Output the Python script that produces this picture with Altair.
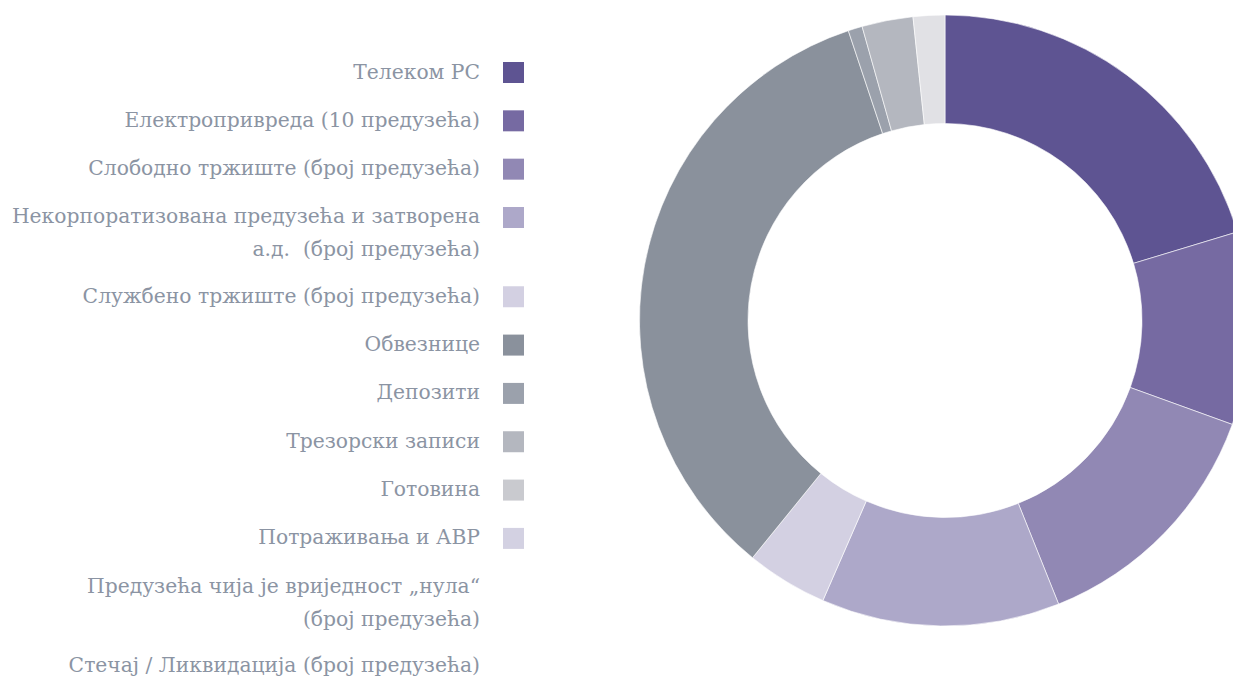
import altair as alt
import pandas as pd

categories = [
    "Телеком РС",
    "Електропривреда (10 предузећа)",
    "Слободно тржиште (број предузећа)",
    "Некорпоратизована предузећа и затворена\nа.д.\u00a0 (број предузећа)",
    "Службено тржиште (број предузећа)",
    "Обвезнице",
    "Депозити",
    "Трезорски записи",
    "Готовина",
    "Потраживања и АВР",
    "Предузећа чија је вриједност „нула“\n(број предузећа)",
    "Стечај / Ликвидација (број предузећа)",
]
values = [20.3, 10.2, 13.4, 12.6, 4.3, 34.0, 0.75, 2.7, 1.67, 0.0, 0.0, 0.0]
legend_colors = ["#5e5492", "#766aa2", "#9188b4", "#ada8c9", "#d3d0e2", "#8a919c",
                 "#9ba1ac", "#b4b7bf", "#c9cacf", "#d3d1e2", "#ffffff", "#ffffff"]
slice_colors = ["#5e5492", "#766aa2", "#9188b4", "#ada8c9", "#d3d0e2", "#8a919c",
                "#9ba1ac", "#b4b7bf", "#e1e1e5", "#d3d1e2", "#ffffff", "#ffffff"]

# legend row positions derived from the number of text lines in each label
LINE_RATIO = 0.64
extra = [c.count("\n") for c in categories]
pos = []
acc = 0.0
for i, e in enumerate(extra):
    pos.append(i + acc)
    acc += e * LINE_RATIO
max_pos = pos[-1]

df = pd.DataFrame({
    "category": categories,
    "value": values,
    "idx": list(range(len(categories))),
    "pos": pos,
    "swatch": legend_colors,
})

TEXT_COLOR = "#8b94a3"
FONT = "DejaVu Serif"

base = alt.Chart(df)

arc = base.transform_filter("datum.value > 0").mark_arc(
    radius=305.5, innerRadius=197, stroke="#ffffff", strokeWidth=0.6
).encode(
    theta=alt.Theta("value:Q", stack=True),
    color=alt.Color("category:N", scale=alt.Scale(domain=categories, range=slice_colors), legend=None),
    order=alt.Order("idx:Q"),
    x=alt.value(937),
    y=alt.value(312.5),
)

yenc = alt.Y("pos:Q", scale=alt.Scale(domain=[0, max_pos], range=[64.5, 658]), axis=None)

labels = base.mark_text(
    align="right", baseline="top", font=FONT, fontSize=20.3, color=TEXT_COLOR,
    lineBreak="\n", lineHeight=33, dy=-10,
).encode(
    x=alt.value(472),
    y=yenc,
    text="category:N",
)

swatches = base.mark_square(size=441, opacity=1).encode(
    x=alt.value(505.5),
    y=yenc,
    color=alt.Color("swatch:N", scale=None),
)

chart = alt.layer(arc, labels, swatches).properties(
    width=1225, height=669, padding=0,
    autosize=alt.AutoSizeParams(type="none"),
).configure_view(stroke=None)

chart.save("out.html", embed_options={"renderer": "svg", "actions": False})
